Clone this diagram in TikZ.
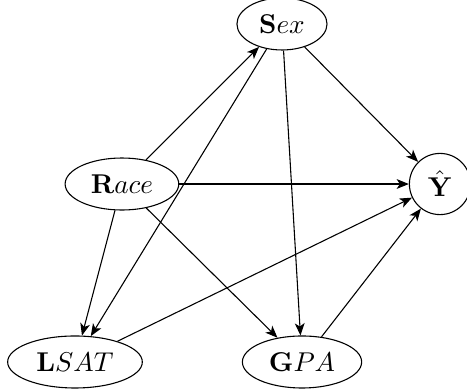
\documentclass[tikz,border=0pt]{standalone}
\usepackage{amsmath,amssymb}
\usetikzlibrary{shapes.geometric,arrows.meta}

\begin{document}
\begin{tikzpicture}[>={Stealth[length=4.5pt,width=3.6pt,inset=1.2pt]}]
      \useasboundingbox (0,0) rectangle (6.035,-5.053);
      \tikzstyle{every node}=[draw,ellipse,fill=white,inner sep=3.33pt]
      \node (sex)  at (3.644,-0.310) {$\mathbf{S}ex$};
      \node (race) at (1.576,-2.378) {$\mathbf{R}ace$};
      \node (yhat) [circle,minimum size=22.5pt] at (5.686,-2.378) {$\hat{\mathbf{Y}}$};
      \node (lsat) at (0.969,-4.678) {$\mathbf{L}SAT$};
      \node (gpa)  at (3.903,-4.678) {$\mathbf{G}PA$};
      % edges
      \draw[->] (race) -- (sex);
      \draw[->] (race) -- (yhat);
      \draw[->] (race) -- (lsat);
      \draw[->] (race) -- (gpa);
      \draw[->] (sex) -- (yhat);
      \draw[->] (sex) -- (lsat);
      \draw[->] (sex) -- (gpa);
      \draw[->] (lsat) -- (yhat);
      \draw[->] (gpa) -- (yhat);
  \end{tikzpicture}
\end{document}
